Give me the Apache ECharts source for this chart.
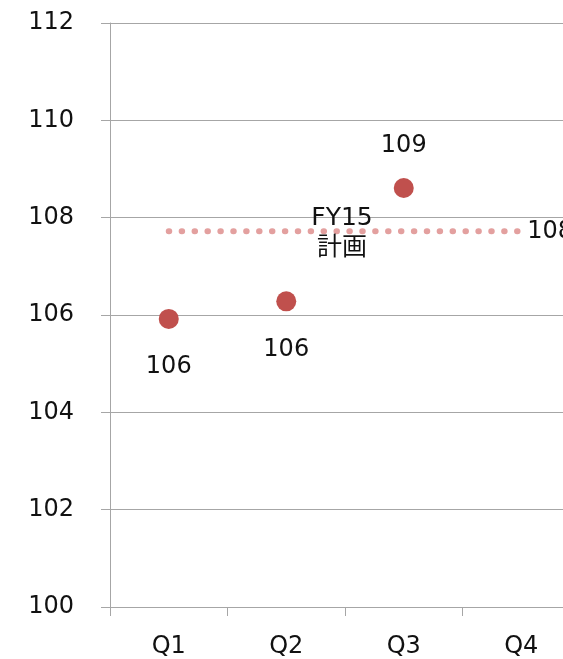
<!DOCTYPE html>
<html>
<head>
<meta charset="utf-8">
<script src="https://cdn.jsdelivr.net/npm/echarts@6/dist/echarts.min.js"></script>
<style>
  html, body { margin: 0; padding: 0; background: #fff; overflow: hidden; }
  #chart { width: 600px; height: 659px; }
</style>
</head>
<body>
<div id="chart"></div>
<script>
// Quarterly results against the FY15 plan
const categories = ['Q1', 'Q2', 'Q3', 'Q4'];
const actualValues = [105.92, 106.28, 108.61, null];
const planValues = [107.72, 107.72, 107.72, 107.72];
const planLabel = 'FY15\n計画';
const yMin = 100;
const yMax = 112;
const yStep = 2;

const FONT = "'DejaVu Sans', 'Noto Sans CJK JP', sans-serif";
const TEXT = '#111111';
const AXIS_GRAY = '#a6a6a6';
const labelSides = ['bottom', 'bottom', 'top', 'top'];
const labelGaps = [26, 26, 20, 20];

const chart = echarts.init(document.getElementById('chart'), null, { renderer: 'canvas' });

chart.setOption({
  animation: false,
  backgroundColor: '#ffffff',
  textStyle: { fontFamily: FONT },
  grid: { left: 110, top: 23, right: 20, bottom: 51.5, containLabel: false },
  xAxis: {
    type: 'category',
    data: categories,
    boundaryGap: true,
    axisLine: { show: true, lineStyle: { color: AXIS_GRAY, width: 1 } },
    axisTick: { show: true, length: 9, lineStyle: { color: AXIS_GRAY } },
    axisLabel: { color: TEXT, fontSize: 24, fontFamily: FONT, margin: 28 },
    splitLine: { show: false }
  },
  yAxis: {
    type: 'value',
    min: yMin,
    max: yMax,
    interval: yStep,
    axisLine: { show: true, lineStyle: { color: AXIS_GRAY, width: 1 } },
    axisTick: { show: true, length: 9, lineStyle: { color: AXIS_GRAY } },
    axisLabel: { color: TEXT, fontSize: 24, fontFamily: FONT, margin: 36 },
    splitLine: { show: true, lineStyle: { color: AXIS_GRAY, width: 1 } }
  },
  series: [
    {
      name: '計画',
      type: 'line',
      data: planValues,
      symbol: 'none',
      silent: true,
      lineStyle: { color: '#e3a09f', width: 6, type: [0.5, 12.4], cap: 'round' },
      endLabel: {
        show: true,
        color: TEXT,
        fontSize: 24,
        fontFamily: FONT,
        distance: 6,
        formatter: p => String(Math.round(p.value))
      },
      markLine: {
        silent: true,
        symbol: 'none',
        lineStyle: { color: 'rgba(0,0,0,0)', width: 0, type: 'solid' },
        label: {
          show: true,
          position: 'middle',
          formatter: planLabel,
          color: TEXT,
          fontSize: 25,
          lineHeight: 30,
          fontFamily: FONT,
          distance: 0,
          verticalAlign: 'middle',
          offset: [-3, 2]
        },
        data: [[
          { coord: [categories[0], planValues[0]] },
          { coord: [categories[categories.length - 1], planValues[planValues.length - 1]] }
        ]]
      },
      z: 2
    },
    {
      name: '実績',
      type: 'scatter',
      symbol: 'circle',
      symbolSize: 20,
      itemStyle: { color: '#c0504d', opacity: 1 },
      data: actualValues.map((v, i) => ({
        value: v,
        label: { position: labelSides[i], distance: labelGaps[i] }
      })),
      label: {
        show: true,
        color: TEXT,
        fontSize: 24,
        fontFamily: FONT,
        formatter: p => String(Math.round(p.value))
      },
      z: 3
    }
  ]
});
</script>
</body>
</html>
